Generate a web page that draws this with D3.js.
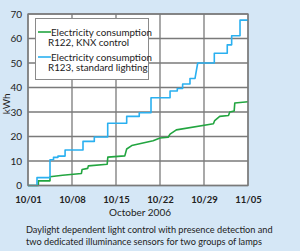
<!DOCTYPE html>
<html><head><meta charset="utf-8">
<script src="https://cdn.jsdelivr.net/npm/d3@7"></script>
<style>
html,body{margin:0;padding:0;background:#d5e7f6;}
svg{display:block;}
text{font-family:"Lato","Open Sans",sans-serif;fill:#222;}
</style></head><body>
<script>
// X tick labels (weekly, days since 10/01)
const tickLabels = ["10/01","10/08","10/15","10/22","10/29","11/05"];
const tickDays = [0,7,14,21,28,35];
const yTicks = [0,10,20,30,40,50,60,70];

// Cumulative consumption (kWh), days since Oct 1 2006
const r122Days = [0,1.65,1.65,3.5,3.5,5.5,8.5,8.6,9.5,9.6,12.6,12.7,15.4,15.7,16.5,19.9,21,22.3,22.6,23.6,29.5,29.7,30.5,31.9,32.1,32.8,32.9,35];
const r122Vals = [0,0,1.9,1.9,3.6,4.2,4.9,6.5,7,8,8.7,11.6,12.1,14.9,16.3,18.3,19.4,19.7,21,22.7,25.2,26.5,28.2,28.6,30,30.4,33.7,34.2];

const r123Days = [0,1.43,1.43,3.5,3.5,4.06,4.06,4.77,4.77,5.9,5.9,8.75,8.75,10.55,10.55,12.68,12.68,15.7,15.7,17.7,17.7,19.57,19.57,22.6,22.6,23.75,23.75,24.6,24.6,25.77,25.77,26.57,27.0,29.64,29.64,31.7,31.7,32.4,32.4,33.73,33.73,35];
const r123Vals = [0,0,3.2,3.2,10.5,10.5,11.5,11.5,12,12,14.5,14.5,18,18,19.8,19.8,25.4,25.4,28.2,28.2,29.7,29.7,35.8,35.8,38.6,38.6,39.6,39.6,41.4,41.4,43.7,43.7,50,50,54,54,57.4,57.4,61.1,61.1,67.5,67.5];

const seriesNames = [["Electricity consumption","R122, KNX control"],["Electricity consumption","R123, standard lighting"]];
const seriesColors = ["#22a540","#2ab0f0"];
const captionLines = ["Daylight dependent light control with presence detection and","two dedicated illuminance sensors for two groups of lamps"];

const W=300,H=251;
const m={l:28,t:14,r:52,b:66};
const svg=d3.select("body").append("svg").attr("width",W).attr("height",H);
svg.append("rect").attr("width",W).attr("height",H).attr("fill","#d5e7f6");

const x=d3.scaleLinear().domain([0,35]).range([m.l,W-m.r]);
const y=d3.scaleLinear().domain([0,70]).range([H-m.b+0.5,m.t]);

svg.append("rect").attr("x",x(0)).attr("y",y(70)).attr("width",x(35)-x(0)).attr("height",y(0)-y(70)).attr("fill","#fff");

// grid
const g=svg.append("g");
g.selectAll(".hg").data(yTicks).join("line")
 .attr("x1",x(0)).attr("x2",x(35)).attr("y1",d=>y(d)).attr("y2",d=>y(d))
 .attr("stroke","#7a7a7a").attr("stroke-width",1.3);
g.selectAll(".vg").data(tickDays).join("line")
 .attr("y1",y(0)).attr("y2",y(70)).attr("x1",d=>x(d)).attr("x2",d=>x(d))
 .attr("stroke","#7a7a7a").attr("stroke-width",1.3);

// axes labels
const yAxis=d3.axisLeft(y).tickValues(yTicks).tickSize(0).tickPadding(6);
const ya=svg.append("g").attr("transform",`translate(${x(0)},0)`).call(yAxis);
ya.select(".domain").remove();
ya.selectAll("text").attr("font-size",10).attr("fill","#222").attr("font-family","Lato, sans-serif");

const xAxis=d3.axisBottom(x).tickValues(tickDays).tickFormat((d,i)=>tickLabels[i]).tickSize(0).tickPadding(11);
const xa=svg.append("g").attr("transform",`translate(0,${y(0)})`).call(xAxis);
xa.select(".domain").remove();
xa.selectAll("text").attr("font-size",9.5).attr("font-weight","bold").attr("fill","#222").attr("font-family","Lato, sans-serif");

svg.append("text").attr("transform",`translate(10,${(y(0)+y(70))/2+4}) rotate(-90)`)
 .attr("text-anchor","middle").attr("font-size",10).text("kWh");
svg.append("text").attr("x",140).attr("y",216).attr("text-anchor","middle").attr("font-size",10).text("October 2006");

captionLines.forEach((t,i)=>svg.append("text").attr("x",26).attr("y",233+i*12).attr("font-size",9.2).text(t));

// lines
const line=d3.line().x(d=>x(d[0])).y(d=>y(d[1]));
const s1=r122Days.map((d,i)=>[d,r122Vals[i]]);
const s2=r123Days.map((d,i)=>[d,r123Vals[i]]);
[s1,s2].forEach((s,i)=>svg.append("path").datum(s).attr("d",line)
  .attr("fill","none").attr("stroke",seriesColors[i]).attr("stroke-width",1.6).attr("stroke-linejoin","round"));

// plot border
svg.append("rect").attr("x",x(0)).attr("y",y(70)).attr("width",x(35)-x(0)).attr("height",y(0)-y(70))
 .attr("fill","none").attr("stroke","#7a7a7a").attr("stroke-width",1.3);

// legend
const lg=svg.append("g");
lg.append("rect").attr("x",35.5).attr("y",18.5).attr("width",113).attr("height",61)
 .attr("fill","#fff").attr("stroke","#8a8a8a").attr("stroke-width",1);
seriesNames.forEach((nm,i)=>{
  const yy=32+i*25;
  lg.append("line").attr("x1",38).attr("x2",51).attr("y1",yy).attr("y2",yy)
   .attr("stroke",seriesColors[i]).attr("stroke-width",1.6);
  lg.append("text").attr("x",51).attr("y",yy+3.5).attr("font-size",9.8).text(nm[0]);
  lg.append("text").attr("x",48).attr("y",yy+14).attr("font-size",9.8).text(nm[1]);
});
</script>
</body></html>
